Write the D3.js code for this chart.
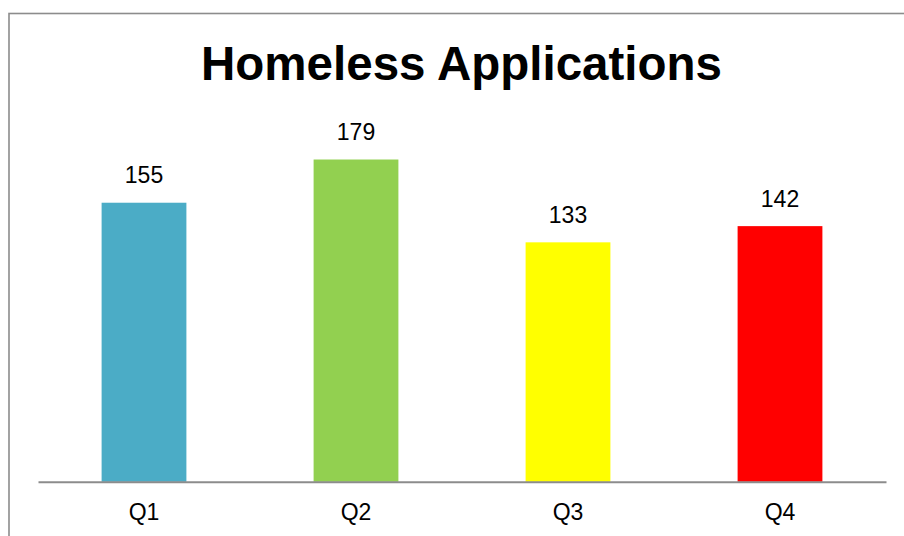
<!DOCTYPE html>
<html>
<head>
<meta charset="utf-8">
<script src="https://cdn.jsdelivr.net/npm/d3@7"></script>
<style>
  body { margin: 0; background: #fff; }
  svg { display: block; font-family: Arial, "Liberation Sans", sans-serif; }
</style>
</head>
<body>
<div class="display"></div>
<script>
// Homeless applications per quarter

const WIDTH = 904;
const HEIGHT = 536;

const TITLE = 'Homeless Applications';
const quarters = ['Q1', 'Q2', 'Q3', 'Q4'];
const applications = [155, 179, 133, 142];
const barColors = ['#4BACC6', '#92D050', '#FFFF00', '#FF0000'];

let svg, x, y;

function setupSvg() {
  svg = d3.select('.display')
    .append('svg')
    .attr('width', WIDTH)
    .attr('height', HEIGHT);

  // chart frame, runs off the right and bottom of the picture
  svg.append('rect')
    .attr('x', 9)
    .attr('y', 13.5)
    .attr('width', 1000)
    .attr('height', 1000)
    .attr('fill', '#fff')
    .attr('stroke', '#8c8c8c')
    .attr('stroke-width', 1.6);
}

function drawChart() {
  x = d3.scaleBand()
    .domain(quarters)
    .range([38, 886])
    .paddingInner(0.6)
    .paddingOuter(0.3);

  y = d3.scaleLinear()
    .domain([0, 200])
    .range([481.8, 121.7]);

  svg.append('text')
    .attr('x', 461.5)
    .attr('y', 79.5)
    .attr('text-anchor', 'middle')
    .attr('font-size', 47.5)
    .attr('font-weight', 'bold')
    .attr('fill', '#000')
    .text(TITLE);

  const data = quarters.map((q, i) => ({ q, value: applications[i], color: barColors[i] }));

  svg.append('g')
    .selectAll('rect')
    .data(data)
    .enter()
    .append('rect')
    .attr('x', d => x(d.q))
    .attr('y', d => y(d.value))
    .attr('width', x.bandwidth())
    .attr('height', d => y(0) - y(d.value))
    .attr('fill', d => d.color);

  svg.append('g')
    .selectAll('text')
    .data(data)
    .enter()
    .append('text')
    .attr('x', d => x(d.q) + x.bandwidth() / 2)
    .attr('y', d => y(d.value) - 19.5)
    .attr('text-anchor', 'middle')
    .attr('font-size', 23)
    .attr('fill', '#000')
    .text(d => d.value);

  const axis = svg.append('g')
    .attr('transform', `translate(0,${y(0)})`)
    .call(d3.axisBottom(x).tickSize(0).tickPadding(0).tickSizeOuter(0));

  axis.select('.domain')
    .attr('stroke', '#8c8c8c')
    .attr('stroke-width', 2);

  axis.selectAll('.tick text')
    .attr('dy', null)
    .attr('y', 38.5)
    .attr('font-size', 23)
    .attr('font-family', 'Arial, "Liberation Sans", sans-serif')
    .attr('fill', '#000');
}

setupSvg();
drawChart();
</script>
</body>
</html>
